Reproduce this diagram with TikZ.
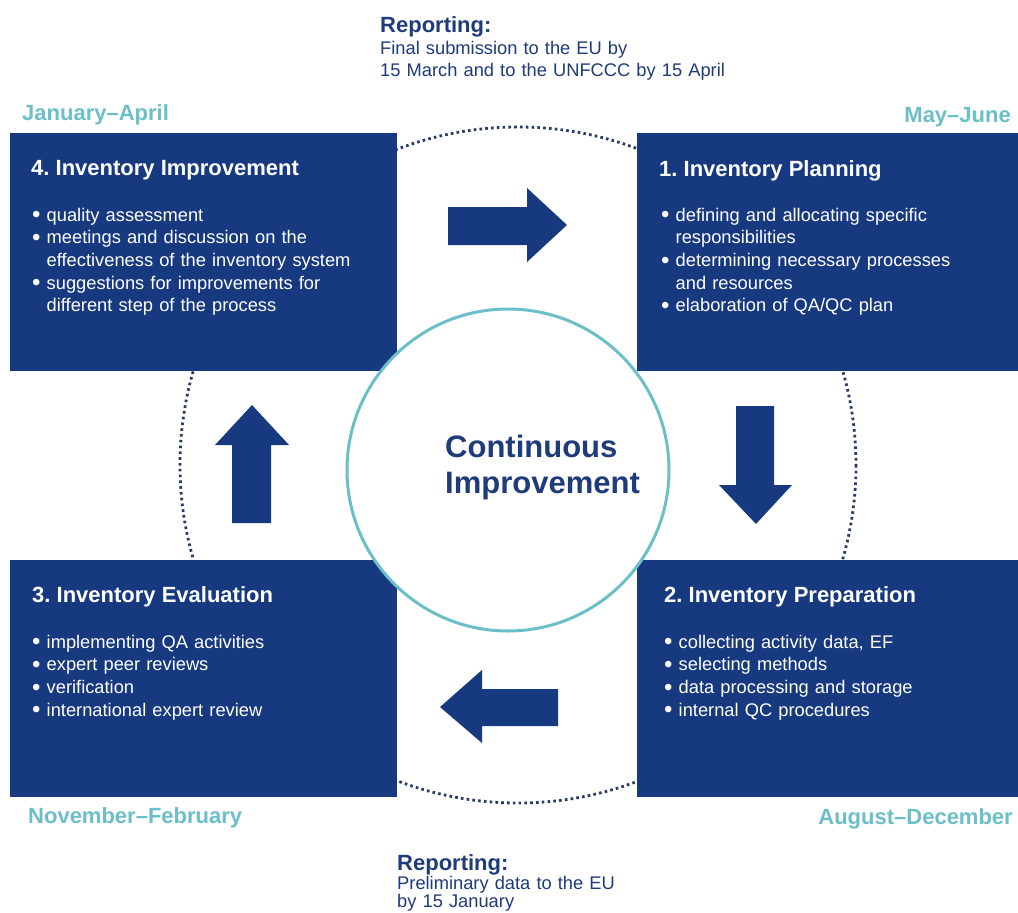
\documentclass[tikz,border=0pt]{standalone}
\usepackage{fontspec}
\setmainfont{Liberation Sans}
\frenchspacing
\definecolor{boxblue}{RGB}{23,57,128}
\definecolor{teal}{RGB}{108,191,200}
\definecolor{dotc}{RGB}{40,58,100}
\definecolor{txtblue}{RGB}{30,59,122}
\newcommand\bul{\makebox[14.5pt][l]{\raisebox{-1.6pt}{\fontsize{24}{24}\selectfont•}}}
\newcommand\ind{\hspace*{14.5pt}}
\begin{document}
\begin{tikzpicture}[x=1pt,y=-1pt,
  phase/.style={fill=boxblue,draw=none},
  boxtitle/.style={anchor=base west,inner sep=0pt,text=white,font=\fontsize{22}{26}\selectfont\bfseries},
  boxlist/.style={anchor=base west,inner sep=0pt,text=white,text width=360pt,align=left,font=\fontsize{18.3}{22.7}\selectfont},
  month/.style={inner sep=0pt,text=teal,font=\fontsize{22}{26}\selectfont\bfseries},
  rephead/.style={anchor=base west,inner sep=0pt,text=txtblue,font=\fontsize{22}{26}\selectfont\bfseries},
  repbody/.style={anchor=base west,inner sep=0pt,text=txtblue,text width=400pt,align=left,font=\fontsize{18.3}{22}\selectfont},
  blockarrow/.style={fill=boxblue,draw=none},
  cycle/.style={draw=dotc,line width=2.8pt,dash pattern=on 2.6pt off 3.2pt},
  core/.style={draw=teal,line width=3pt,fill=white}
]
\useasboundingbox (0,0) rectangle (1018,913);
\fill[white] (0,0) rectangle (1018,913);

% dotted cycle
\draw[cycle] (518,465) circle[radius=338];

% phase boxes
\fill[phase] (10,133) rectangle (397,371);
\fill[phase] (637,133) rectangle (1018,371);
\fill[phase] (10,560) rectangle (397,797);
\fill[phase] (637,560) rectangle (1018,797);

% central circle
\node[core,circle,minimum size=322pt,inner sep=0pt] (ci) at (508,470) {};
\node[anchor=base west,inner sep=0pt,text=txtblue,text width=250pt,align=left,
      font=\fontsize{31}{36}\selectfont\bfseries] (citxt) at (445,457)
      {Continuous\\Improvement};

% block arrows
\fill[blockarrow] (448,207) -- (527,207) -- (527,188) -- (567,225) -- (527,262) -- (527,245) -- (448,245) -- cycle;
\fill[blockarrow] (736,406) -- (774,406) -- (774,485) -- (792,485) -- (756,524) -- (719,485) -- (736,485) -- cycle;
\fill[blockarrow] (558,689) -- (482,689) -- (482,670) -- (440,707) -- (482,743) -- (482,726) -- (558,726) -- cycle;
\fill[blockarrow] (232,523) -- (232,445) -- (215,445) -- (252,405) -- (289,445) -- (271,445) -- (271,523) -- cycle;

% box 4
\node[boxtitle] (t4) at (31,175) {4. Inventory Improvement};
\node[boxlist] (l4) at (32,221) {\bul quality assessment\\
\bul meetings and discussion on the\\
\ind effectiveness of the inventory system\\
\bul suggestions for improvements for\\
\ind different step of the process};

% box 1
\node[boxtitle] (t1) at (659,176) {1. Inventory Planning};
\node[boxlist] (l1) at (661,221) {\bul defining and allocating specific\\
\ind responsibilities\\
\bul determining necessary processes\\
\ind and resources\\
\bul elaboration of QA/QC plan};

% box 3
\node[boxtitle] (t3) at (32,602) {3. Inventory Evaluation};
\node[boxlist] (l3) at (32,648) {\bul implementing QA activities\\
\bul expert peer reviews\\
\bul verification\\
\bul international expert review};

% box 2
\node[boxtitle] (t2) at (664,602) {2. Inventory Preparation};
\node[boxlist] (l2) at (664,648) {\bul collecting activity data, EF\\
\bul selecting methods\\
\bul data processing and storage\\
\bul internal QC procedures};

% months
\node[month,anchor=base west] (m4) at (22,120) {January–April};
\node[month,anchor=base east] (m1) at (1011,122) {May–June};
\node[month,anchor=base west] (m3) at (28,823) {November–February};
\node[month,anchor=base east] (m2) at (1013,824) {August–December};

% reporting
\node[rephead] (rt) at (380,32) {Reporting:};
\node[repbody] (rtb) at (380,54) {Final submission to the EU by\\15 March and to the UNFCCC by 15 April};
\node[rephead] (rb) at (397,870) {Reporting:};
\node[repbody,font=\fontsize{18.3}{18.5}\selectfont] (rbb) at (397,889) {Preliminary data to the EU\\by 15 January};
\end{tikzpicture}
\end{document}
